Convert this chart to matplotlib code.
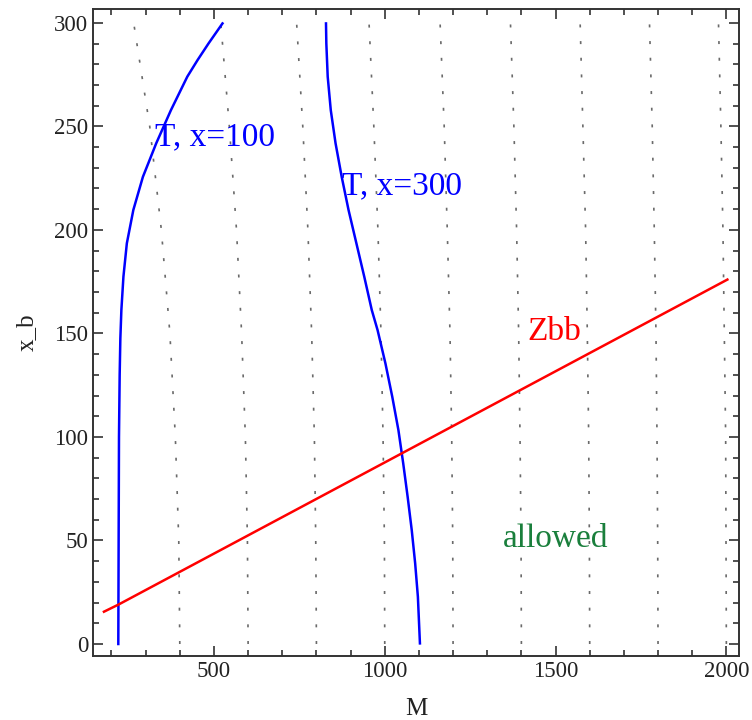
import matplotlib
matplotlib.use("Agg")
import matplotlib.pyplot as plt
from matplotlib.ticker import MultipleLocator

plt.rcParams['font.family'] = ['Liberation Serif', 'DejaVu Serif']

# curve T, x=100 (M values at given x_b)
t100_y = [0, 50, 100, 130, 147.6, 161.3, 177.4, 193.5, 209.6, 225.6, 241.8, 257.8, 274, 282, 290, 299.7]
t100_m = [220, 221, 222, 224, 226, 229, 235, 245, 264, 292, 331, 374, 422, 452, 484, 525]

# curve T, x=300
t300_y = [0.3, 22.8, 39.0, 55.0, 71.1, 87.3, 103.3, 119.4, 135.5, 151.6, 161.3, 177.4,
          193.5, 209.6, 225.6, 241.8, 257.8, 274, 290, 299.7]
t300_m = [1103, 1097, 1089, 1079, 1067, 1054, 1040, 1022, 1002, 979, 962, 940,
          917, 894, 874, 856, 842, 833, 829, 828]

# Zbb line
zbb_m = [178, 220, 2003]
zbb_y = [15.6, 19.0, 176.0]

# dotted background contours
dot_y = [0, 50, 100, 150, 200, 250, 300]
dot_m = [
    [400, 397, 387, 371, 346, 312, 265],
    [600, 598, 592, 581, 566, 545, 520],
    [800, 798, 794, 786, 775, 760, 742],
    [1000, 999, 995, 989, 980, 968, 954],
    [1200, 1199, 1196, 1191, 1183, 1174, 1162],
    [1400, 1399, 1396, 1392, 1386, 1378, 1368],
    [1600, 1599, 1597, 1593, 1588, 1580, 1572],
    [1800, 1799, 1797, 1794, 1789, 1783, 1775],
    [2000, 1999, 1998, 1994, 1990, 1984, 1977],
]

fig = plt.figure(figsize=(7.52, 7.2), dpi=100)
ax = fig.add_axes([0.1237, 0.0893, 0.859, 0.898])

for m in dot_m:
    ax.plot(m, dot_y, color='#6a6a6a', lw=1.2, ls=(0, (1.8, 8.2)))

ax.plot(t100_m, t100_y, color='#0000ff', lw=1.8, solid_joinstyle='round')
ax.plot(t300_m, t300_y, color='#0000ff', lw=1.8, solid_joinstyle='round')
ax.plot(zbb_m, zbb_y, color='#ff0000', lw=1.8)

ax.text(326, 245, 'T, x=100', color='#0000ff', fontsize=24, va='center', ha='left')
ax.text(876, 221, 'T, x=300', color='#0000ff', fontsize=24, va='center', ha='left')
ax.text(1417, 151, 'Zbb', color='#ff0000', fontsize=24, va='center', ha='left')
ax.text(1500, 51, 'allowed', color='#1a7f3c', fontsize=24, va='center', ha='center')

ax.set_xlim(146, 2037)
ax.set_ylim(-5.65, 306.6)

ax.xaxis.set_major_locator(MultipleLocator(500))
ax.xaxis.set_minor_locator(MultipleLocator(100))
ax.yaxis.set_major_locator(MultipleLocator(50))
ax.yaxis.set_minor_locator(MultipleLocator(10))
ax.tick_params(which='both', direction='in', top=True, right=True,
               colors='#222222', width=1.1, labelsize=16.5)
ax.tick_params(which='major', length=7.2)
ax.tick_params(which='minor', length=4.3)
for s in ax.spines.values():
    s.set_linewidth(1.4)
    s.set_color('#333333')

ax.set_xlabel('M', fontsize=18, color='#222222', labelpad=12)
ax.set_ylabel('x_b', fontsize=18, color='#222222', labelpad=12)

fig.savefig('out.png', dpi=100)
